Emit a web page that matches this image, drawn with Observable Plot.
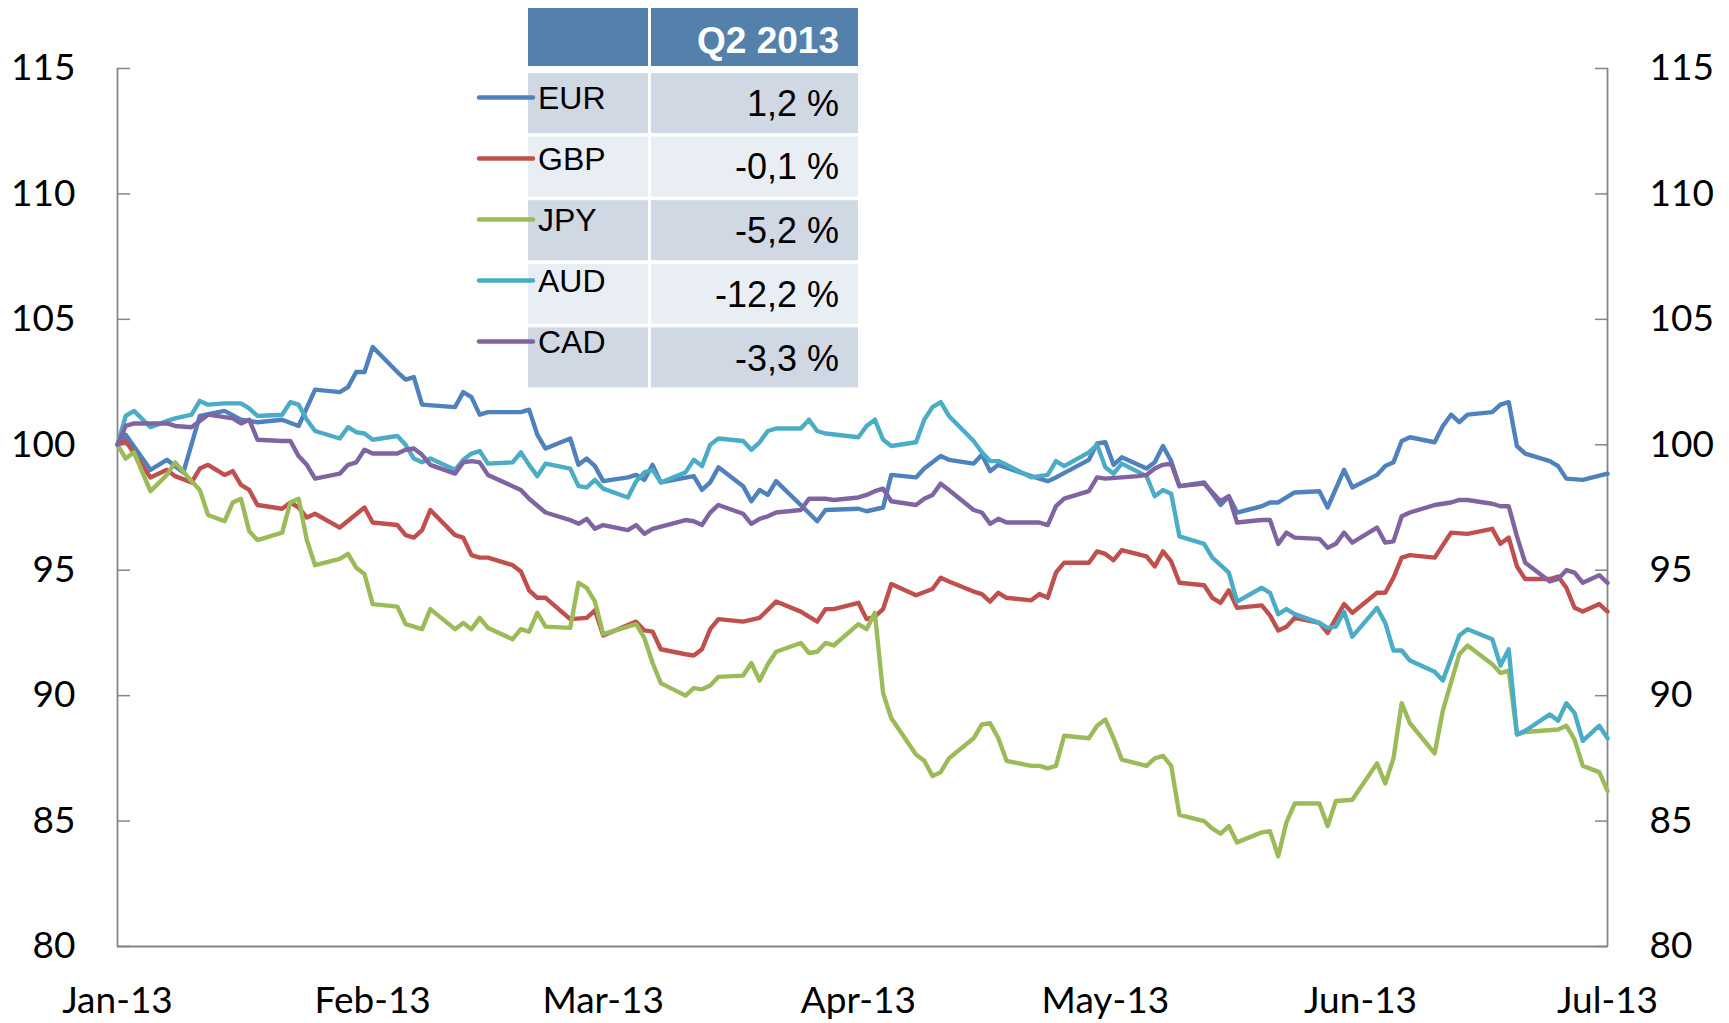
<!DOCTYPE html>
<html><head><meta charset="utf-8">
<script src="https://cdn.jsdelivr.net/npm/d3@7"></script>
<script src="https://cdn.jsdelivr.net/npm/@observablehq/plot@0.6"></script>
<style>
html,body{margin:0;padding:0;background:#fff;}
#wrap{position:relative;width:1729px;height:1023px;overflow:hidden;}
#wrap svg{display:block;}
#table{position:absolute;left:0;top:0;pointer-events:none;}
</style></head><body><div id="wrap"></div>
<script>
// Currencies, colours and Q2 2013 changes (table)
const currencies = ["EUR", "GBP", "JPY", "AUD", "CAD"];
const colors = ["#4F81BD", "#C0504D", "#9BBB59", "#4BACC6", "#8064A2"];
const q2Changes = ["1,2 %", "-0,1 %", "-5,2 %", "-12,2 %", "-3,3 %"];
const tableHeader = "Q2 2013";

// Axis ticks
const yTicks = [80, 85, 90, 95, 100, 105, 110, 115];
const monthTicks = ["2013-01-01", "2013-02-01", "2013-03-01", "2013-04-01", "2013-05-01", "2013-06-01", "2013-07-01"];

// Series: [day offset from 2013-01-01, index value]
const eur = [[0,100.0],[1,100.4],[4,99.0],[6,99.4],[8,98.9],[10,101.15],[13,101.35],[15,101.0],[17,100.9],[20,101.0],[22,100.75],[24,102.2],[27,102.1],[28,102.3],[29,102.9],[30,102.9],[31,103.9],[34,102.9],[35,102.6],[36,102.7],[37,101.6],[41,101.5],[42,102.1],[43,101.9],[44,101.2],[45,101.3],[49,101.3],[50,101.4],[51,100.4],[52,99.85],[55,100.25],[56,99.2],[57,99.45],[58,99.15],[59,98.55],[62,98.7],[63,98.8],[64,98.6],[65,99.2],[66,98.5],[70,98.75],[71,98.2],[72,98.5],[73,99.1],[76,98.35],[77,97.75],[78,98.2],[79,98.0],[80,98.55],[83,97.6],[85,96.95],[86,97.4],[90,97.45],[91,97.35],[93,97.5],[94,98.8],[97,98.7],[98,99.05],[100,99.55],[101,99.4],[104,99.25],[105,99.6],[106,98.95],[107,99.2],[111,98.75],[113,98.55],[114,98.7],[118,99.4],[119,100.05],[120,100.1],[121,99.2],[122,99.5],[125,99.05],[126,99.3],[127,99.95],[128,99.35],[129,98.35],[132,98.5],[133,98.05],[134,97.6],[135,97.95],[136,97.3],[139,97.55],[140,97.7],[141,97.7],[143,98.1],[146,98.15],[147,97.5],[149,99.0],[150,98.3],[153,98.8],[154,99.15],[155,99.3],[156,100.15],[157,100.3],[160,100.1],[161,100.75],[162,101.2],[163,100.9],[164,101.2],[167,101.3],[168,101.6],[169,101.7],[170,99.95],[171,99.65],[174,99.35],[175,99.15],[176,98.65],[178,98.6],[181,98.85]];
const gbp = [[0,100.0],[1,100.15],[4,98.7],[6,99.0],[7,98.75],[9,98.5],[10,99.05],[11,99.2],[13,98.8],[14,98.95],[15,98.4],[16,98.2],[17,97.6],[20,97.45],[21,97.7],[22,97.5],[23,97.1],[24,97.25],[27,96.7],[30,97.5],[31,96.9],[34,96.8],[35,96.4],[36,96.3],[37,96.6],[38,97.4],[41,96.4],[42,96.3],[43,95.6],[44,95.5],[45,95.5],[48,95.2],[49,94.95],[50,94.2],[51,93.9],[52,93.9],[55,93.05],[57,93.1],[58,93.4],[59,92.4],[63,92.95],[64,92.6],[65,92.55],[66,91.85],[69,91.65],[70,91.6],[71,91.85],[72,92.65],[73,93.05],[76,92.95],[78,93.1],[80,93.75],[83,93.35],[85,92.95],[86,93.45],[87,93.45],[90,93.7],[91,93.05],[92,93.15],[93,93.45],[94,94.45],[97,94.0],[99,94.25],[100,94.7],[101,94.55],[104,94.15],[105,94.05],[106,93.75],[107,94.1],[108,93.9],[111,93.8],[112,94.05],[113,93.9],[114,94.9],[115,95.3],[118,95.3],[119,95.75],[120,95.65],[121,95.4],[122,95.8],[125,95.55],[126,95.15],[127,95.75],[128,95.35],[129,94.5],[132,94.4],[133,93.9],[134,93.7],[135,94.2],[136,93.5],[139,93.6],[140,93.2],[141,92.6],[142,92.75],[143,93.1],[146,92.9],[147,92.5],[149,93.65],[150,93.3],[153,94.1],[154,94.1],[155,94.7],[156,95.5],[157,95.6],[160,95.5],[162,96.5],[164,96.45],[167,96.65],[168,96.05],[169,96.3],[170,95.15],[171,94.65],[174,94.65],[175,94.75],[176,94.3],[177,93.5],[178,93.35],[180,93.65],[181,93.35]];
const jpy = [[0,100.0],[1,99.45],[2,99.7],[4,98.15],[6,98.8],[7,99.3],[9,98.55],[10,98.2],[11,97.2],[13,96.95],[14,97.7],[15,97.85],[16,96.55],[17,96.2],[20,96.5],[21,97.7],[22,97.85],[23,96.2],[24,95.2],[27,95.45],[28,95.65],[29,95.1],[30,94.85],[31,93.65],[34,93.55],[35,92.85],[37,92.65],[38,93.45],[41,92.65],[42,92.9],[43,92.65],[44,93.1],[45,92.7],[48,92.25],[49,92.65],[50,92.55],[51,93.3],[52,92.75],[55,92.7],[56,94.5],[57,94.3],[58,93.75],[59,92.45],[63,92.85],[64,92.3],[65,91.3],[66,90.5],[69,90.0],[70,90.3],[71,90.25],[72,90.4],[73,90.75],[76,90.8],[77,91.3],[78,90.6],[79,91.25],[80,91.75],[83,92.1],[84,91.7],[85,91.75],[86,92.1],[87,92.0],[90,92.85],[91,92.65],[92,93.3],[93,90.1],[94,89.1],[97,87.65],[98,87.4],[99,86.8],[100,86.95],[101,87.5],[104,88.3],[105,88.85],[106,88.9],[107,88.3],[108,87.4],[111,87.2],[112,87.2],[113,87.1],[114,87.2],[115,88.4],[118,88.3],[119,88.8],[120,89.05],[121,88.3],[122,87.45],[125,87.2],[126,87.5],[127,87.6],[128,87.2],[129,85.25],[132,85.0],[133,84.7],[134,84.5],[135,84.8],[136,84.15],[139,84.55],[140,84.6],[141,83.6],[142,84.95],[143,85.7],[146,85.7],[147,84.8],[148,85.8],[150,85.85],[153,87.3],[154,86.5],[155,87.5],[156,89.7],[157,88.9],[160,87.7],[161,89.4],[163,91.65],[164,92.0],[167,91.25],[168,90.9],[169,91.0],[170,88.45],[171,88.55],[175,88.65],[176,88.8],[177,88.25],[178,87.2],[180,86.95],[181,86.2]];
const aud = [[0,100.0],[1,101.15],[2,101.35],[4,100.7],[6,100.95],[7,101.05],[9,101.2],[10,101.75],[11,101.6],[13,101.65],[15,101.65],[16,101.45],[17,101.15],[20,101.2],[21,101.7],[22,101.6],[23,101.0],[24,100.55],[27,100.25],[28,100.7],[29,100.5],[30,100.45],[31,100.2],[34,100.35],[35,100.0],[36,99.45],[37,99.3],[38,99.45],[41,99.0],[42,99.4],[43,99.65],[44,99.75],[45,99.25],[48,99.3],[49,99.7],[50,99.2],[51,98.75],[52,99.25],[55,99.05],[56,98.35],[57,98.3],[58,98.6],[59,98.25],[62,97.9],[63,98.55],[64,98.9],[65,99.0],[66,98.5],[69,98.9],[70,99.4],[71,99.15],[72,100.0],[73,100.25],[76,100.15],[77,99.8],[78,100.1],[79,100.55],[80,100.65],[83,100.65],[84,101.0],[85,100.55],[86,100.45],[90,100.3],[91,100.75],[92,101.0],[93,100.2],[94,99.95],[97,100.1],[98,101.0],[99,101.5],[100,101.7],[101,101.15],[104,100.15],[105,99.7],[106,99.35],[107,99.35],[108,99.2],[111,98.7],[113,98.8],[114,99.35],[115,99.15],[118,99.7],[119,100.0],[120,99.1],[121,98.85],[122,99.25],[125,98.75],[126,97.95],[127,98.2],[128,98.05],[129,96.35],[132,96.05],[133,95.5],[134,95.2],[135,94.9],[136,93.75],[139,94.3],[140,94.1],[141,93.25],[142,93.45],[143,93.25],[146,92.9],[147,92.7],[148,92.75],[149,93.35],[150,92.35],[153,93.5],[154,92.9],[155,91.8],[156,91.8],[157,91.4],[160,90.95],[161,90.6],[162,91.5],[163,92.4],[164,92.65],[167,92.25],[168,91.2],[169,91.85],[170,88.45],[171,88.6],[174,89.25],[175,89.0],[176,89.7],[177,89.3],[178,88.2],[180,88.8],[181,88.3]];
const cad = [[0,100.0],[1,100.75],[2,100.85],[6,100.85],[7,100.75],[9,100.7],[11,101.2],[13,101.1],[14,101.05],[15,100.85],[16,101.0],[17,100.2],[20,100.15],[21,100.15],[22,99.55],[23,99.2],[24,98.65],[27,98.85],[28,99.2],[29,99.3],[30,99.8],[31,99.65],[34,99.65],[35,99.8],[36,99.85],[37,99.6],[38,99.2],[41,98.85],[42,99.3],[43,99.35],[44,99.3],[45,98.8],[49,98.2],[50,97.85],[52,97.3],[55,97.0],[56,96.85],[57,97.05],[58,96.65],[59,96.8],[62,96.6],[63,96.8],[64,96.45],[65,96.65],[69,97.0],[70,96.95],[71,96.8],[72,97.3],[73,97.6],[76,97.25],[77,96.85],[78,97.05],[79,97.15],[80,97.3],[83,97.4],[84,97.85],[86,97.85],[87,97.8],[90,97.9],[91,98.0],[92,98.15],[93,98.25],[94,97.75],[97,97.6],[98,97.85],[99,98.0],[100,98.45],[101,98.2],[104,97.4],[105,97.3],[106,96.85],[107,97.05],[108,96.9],[112,96.9],[113,96.8],[114,97.55],[115,97.85],[118,98.15],[119,98.7],[120,98.65],[124,98.75],[125,98.8],[126,99.05],[127,99.2],[128,99.25],[129,98.35],[132,98.45],[133,98.1],[134,97.75],[135,97.95],[136,96.9],[139,97.0],[140,97.0],[141,96.05],[142,96.5],[143,96.3],[146,96.25],[147,95.9],[148,96.05],[149,96.5],[150,96.1],[153,96.7],[154,96.1],[155,96.15],[156,97.15],[157,97.3],[160,97.6],[162,97.7],[163,97.8],[164,97.8],[167,97.65],[168,97.55],[169,97.55],[170,96.35],[171,95.3],[174,94.55],[175,94.65],[176,95.0],[177,94.9],[178,94.5],[180,94.8],[181,94.5]];

const seriesList = [eur, gbp, jpy, aud, cad];
const start = new Date(Date.UTC(2013, 0, 1));
const toDate = d => d3.utcDay.offset(start, d);
const rows = [];
seriesList.forEach((s, i) => s.forEach(([d, v]) => rows.push({currency: currencies[i], date: toDate(d), value: v})));
const months = monthTicks.map(s => new Date(s + "T00:00:00Z"));
const axisGray = "#868686";

const chart = Plot.plot({
  width: 1729, height: 1023,
  marginLeft: 117, marginRight: 122, marginTop: 68, marginBottom: 77,
  style: {fontFamily: "Lato, 'Open Sans', sans-serif", fontSize: "37px", color: "#000", background: "#fff"},
  x: {type: "utc", domain: [months[0], months[months.length - 1]], label: null},
  y: {domain: [80, 115], label: null},
  color: {domain: currencies, range: colors},
  marks: [
    Plot.axisY(yTicks, {anchor: "left", tickSize: 0, tickPadding: 42, fontSize: 37, label: null}),
    Plot.axisY(yTicks, {anchor: "right", tickSize: 0, tickPadding: 42, fontSize: 37, label: null}),
    Plot.axisY(yTicks, {anchor: "left", tickSize: 13, dx: 13, tickFormat: () => "", stroke: axisGray, strokeWidth: 1.5, label: null}),
    Plot.axisY(yTicks, {anchor: "right", tickSize: 13, dx: -13, tickFormat: () => "", stroke: axisGray, strokeWidth: 1.5, label: null}),
    Plot.axisX(months, {anchor: "bottom", tickSize: 0, tickPadding: 40, fontSize: 37, tickFormat: d3.utcFormat("%b-%y"), label: null}),
    Plot.ruleX([months[0], months[months.length - 1]], {stroke: axisGray, strokeWidth: 1.8}),
    Plot.ruleY([80], {stroke: axisGray, strokeWidth: 1.8}),
    Plot.line(rows, {x: "date", y: "value", z: "currency", stroke: "currency", strokeWidth: 4.4, strokeLinejoin: "round", strokeLinecap: "round"})
  ]
});
const wrap = document.getElementById("wrap");
wrap.appendChild(chart);

// Table / legend overlay
const svg = d3.select(wrap).append("svg").attr("id", "table").attr("width", 1729).attr("height", 1023);
const tf = "'Liberation Sans', Arial, sans-serif";
svg.append("rect").attr("x", 528).attr("y", 8).attr("width", 120).attr("height", 58).attr("fill", "#5381AC");
svg.append("rect").attr("x", 651).attr("y", 8).attr("width", 207).attr("height", 58).attr("fill", "#5381AC");
svg.append("text").attr("x", 839).attr("y", 53).attr("text-anchor", "end").attr("fill", "#fff")
  .attr("font-family", tf).attr("font-weight", "bold").attr("font-size", 37).text(tableHeader);
currencies.forEach((c, i) => {
  const top = 73 + i * 63.6;
  const fill = i % 2 === 0 ? "#D0D8E4" : "#E9EDF4";
  svg.append("rect").attr("x", 528).attr("y", top).attr("width", 120).attr("height", 60).attr("fill", fill);
  svg.append("rect").attr("x", 651).attr("y", top).attr("width", 207).attr("height", 60).attr("fill", fill);
  const ly = 97.5 + 61 * i;
  svg.append("line").attr("x1", 479).attr("x2", 533).attr("y1", ly).attr("y2", ly)
    .attr("stroke", colors[i]).attr("stroke-width", 4.4).attr("stroke-linecap", "round");
  svg.append("text").attr("x", 538).attr("y", ly + 11.5).attr("font-family", tf).attr("font-size", 32).attr("fill", "#000").text(c);
  svg.append("text").attr("x", 839).attr("y", 103.5 + 63.8 * i + 12).attr("text-anchor", "end")
    .attr("font-family", tf).attr("font-size", 36).attr("fill", "#000").text(q2Changes[i]);
});
</script></body></html>
